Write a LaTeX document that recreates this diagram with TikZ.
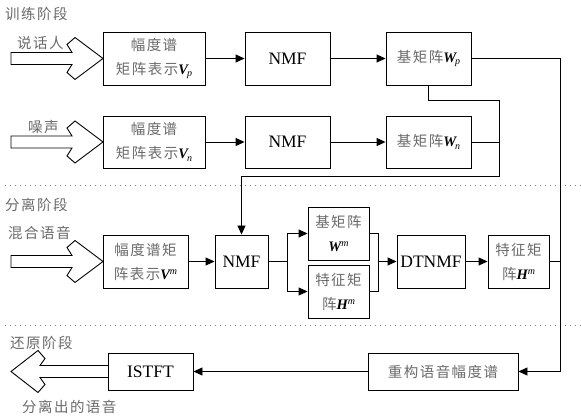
\documentclass[tikz,border=0pt]{standalone}
\usepackage{fontspec}
\setmainfont{Liberation Serif}
\newfontfamily\cjk[LetterSpace=10]{Noto Sans CJK SC}
\usetikzlibrary{arrows.meta}
\definecolor{zhgray}{HTML}{6A6A6A}
\definecolor{sepgray}{HTML}{808080}
% Chinese text in a light grey, matrix symbols in bold italic
\newcommand\zh[1]{{\cjk\color{zhgray}#1}}
\newcommand\mvsub[2]{{\bfseries\itshape #1}\kern-1pt\raisebox{-0.35ex}{\fontsize{10}{10}\selectfont\itshape #2}}
\newcommand\mvsup[2]{{\bfseries\itshape #1}\raisebox{0.75ex}{\fontsize{10}{10}\selectfont\itshape #2}}
\tikzset{
  blk/.style={draw, line width=0.9pt, inner sep=0pt, align=center, minimum height=53pt},
  zhtxt/.style={font=\fontsize{14.5}{24}\selectfont},
  entxt/.style={font=\fontsize{17.5}{20}\selectfont},
  link/.style={line width=0.9pt},
  flow/.style={link, -{Triangle[length=9pt,width=8pt]}},
  hollow/.style={draw, line width=0.9pt, line join=miter},
  sepline/.style={sepgray, line width=0.8pt, dash pattern=on 0.8pt off 4.2pt},
  lbl/.style={anchor=west, inner sep=0pt, font=\fontsize{14.5}{17}\selectfont}
}
\begin{document}
\begin{tikzpicture}[x=1pt, y=-1pt]
\useasboundingbox (0,0) rectangle (581,419);

% stage separators
\draw[sepline] (5,185) -- (581,185);
\draw[sepline] (5,325) -- (581,325);

% stage and signal labels
\node[lbl] (st1) at (5,14) {\zh{训练阶段}};
\node[lbl] (st2) at (5,205) {\zh{分离阶段}};
\node[lbl] (st3) at (10,343) {\zh{还原阶段}};
\node[lbl] (in1) at (17,43) {\zh{说话人}};
\node[lbl] (in2) at (28,127) {\zh{噪声}};
\node[lbl] (in3) at (8,233) {\zh{混合语音}};
\node[lbl] (out) at (22,407) {\zh{分离出的语音}};

% training stage
\node[blk, zhtxt, minimum width=102pt] (vp) at (154,58.5) {\zh{幅度谱}\\\zh{矩阵表示}\mvsub{V}{p}};
\node[blk, entxt, minimum width=85pt] (nmf1) at (287.5,58.5) {NMF};
\node[blk, zhtxt, minimum width=85pt] (wp) at (428.5,58.5) {\zh{基矩阵}\mvsub{W}{p}};
\node[blk, zhtxt, minimum width=102pt, minimum height=52pt] (vn) at (154,142) {\zh{幅度谱}\\\zh{矩阵表示}\mvsub{V}{n}};
\node[blk, entxt, minimum width=85pt, minimum height=52pt] (nmf2) at (287.5,142) {NMF};
\node[blk, zhtxt, minimum width=85pt, minimum height=52pt] (wn) at (428.5,142) {\zh{基矩阵}\mvsub{W}{n}};

% separation stage
\node[blk, zhtxt, minimum width=85pt] (vm) at (145.5,261.5) {\zh{幅度谱矩}\\\zh{阵表示}\mvsup{V}{m}};
\node[blk, entxt, minimum width=53pt] (nmf3) at (241.5,261.5) {NMF};
\node[blk, zhtxt, minimum width=61pt] (wm) at (338.5,233.5) {\zh{基矩阵}\\\mvsup{W}{m}};
\node[blk, zhtxt, minimum width=61pt] (hm1) at (338.5,291.5) {\zh{特征矩}\\\zh{阵}\mvsup{H}{m}};
\node[blk, entxt, minimum width=68pt] (dtnmf) at (431,261.5) {DTNMF};
\node[blk, zhtxt, minimum width=61pt] (hm2) at (518.5,261.5) {\zh{特征矩}\\\zh{阵}\mvsup{H}{m}};

% reconstruction stage
\node[blk, entxt, minimum width=85pt, minimum height=37pt] (istft) at (150.5,371.5) {ISTFT};
\node[blk, zhtxt, minimum width=150pt, minimum height=37pt] (recon) at (443,371.5) {\zh{重构语音幅度谱}};

% hollow input arrows
\foreach \cy in {58.5,142,261.5}
  \draw[hollow, shift={(0,\cy)}] (11,-6) -- (72,-6) -- (67,-14) -- (75,-21) -- (103,0)
        -- (75,21) -- (67,14) -- (72,6) -- (11,6) -- cycle;
% hollow output arrow
\draw[hollow, shift={(0,371.5)}] (108,-6) -- (40,-6) -- (45,-13) -- (38,-21) -- (11,0)
      -- (38,21) -- (45,13) -- (40,6) -- (108,6);

% routing points
\coordinate (bus) at (560,0);
\coordinate (wj) at (499,100);
\coordinate (wlow) at (499,176);
\coordinate (sp) at (287,0);
\coordinate (mg) at (378,0);

% training connectors
\draw[flow] (vp) -- (nmf1);
\draw[flow] (nmf1) -- (wp);
\draw[flow] (vn) -- (nmf2);
\draw[flow] (nmf2) -- (wn);
\draw[flow] (wp.south) -- (wp.south |- wj) -- (wj) -- (wlow) -- (wlow -| nmf3) -- (nmf3.north);
\draw[link] (wn.east) -- (wn.east -| wj);

% separation connectors
\draw[flow] (vm) -- (nmf3);
\draw[link] (nmf3.east) -- (nmf3.east -| sp);
\draw[flow] (nmf3.east -| sp) -- (wm.west -| sp) -- (wm.west);
\draw[flow] (nmf3.east -| sp) -- (hm1.west -| sp) -- (hm1.west);
\draw[link] (wm.east) -- (wm.east -| mg) -- (hm1.east -| mg) -- (hm1.east);
\draw[flow] (dtnmf.west -| mg) -- (dtnmf.west);
\draw[flow] (dtnmf) -- (hm2);

% reconstruction connectors
\draw[flow] (wp.east) -- (wp.east -| bus) -- (recon.east -| bus) -- (recon.east);
\draw[link] (hm2.east) -- (hm2.east -| bus);
\draw[flow] (recon) -- (istft);
\end{tikzpicture}
\end{document}
